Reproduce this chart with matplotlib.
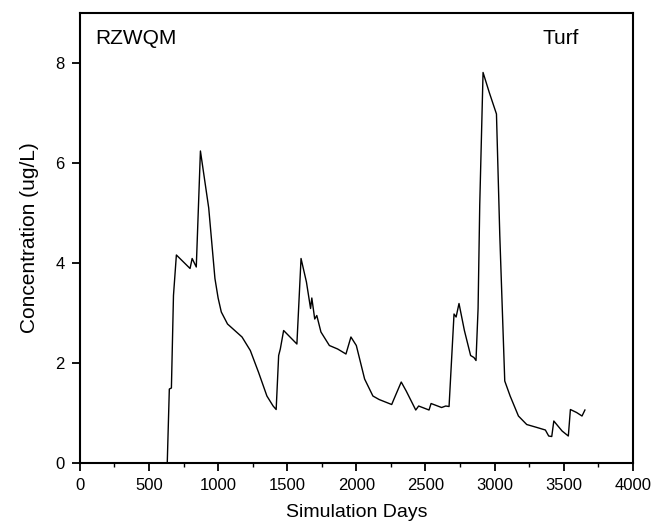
import matplotlib
matplotlib.use('Agg')
import matplotlib.pyplot as plt
from matplotlib.ticker import MultipleLocator

# values
days = [632, 647, 662, 677, 698, 797, 812, 842, 872, 932, 977, 1000, 1023, 1068, 1173,
        1233, 1293, 1353, 1398, 1420, 1438, 1450, 1474, 1570, 1600, 1639, 1669,
        1678, 1699, 1714, 1744, 1805, 1865, 1925, 1961, 2000, 2060, 2120, 2165,
        2256, 2271, 2325, 2361, 2430, 2451, 2526, 2541, 2617, 2647, 2671, 2707,
        2722, 2743, 2782, 2827, 2851, 2866, 2881, 2893, 2917, 2962, 3014, 3038,
        3074, 3113, 3173, 3233, 3308, 3368, 3392, 3414, 3429, 3489, 3534, 3549,
        3594, 3633, 3654]
conc = [0.0, 1.48, 1.5, 3.35, 4.16, 3.89, 4.09, 3.92, 6.24, 5.1, 3.69, 3.3, 3.02, 2.78, 2.52,
        2.25, 1.81, 1.34, 1.14, 1.07, 2.15, 2.28, 2.65, 2.38, 4.09, 3.62, 3.09,
        3.3, 2.88, 2.95, 2.62, 2.35, 2.28, 2.18, 2.52, 2.35, 1.68, 1.34, 1.27,
        1.17, 1.27, 1.62, 1.44, 1.06, 1.14, 1.06, 1.19, 1.11, 1.14, 1.13, 2.98,
        2.92, 3.19, 2.65, 2.15, 2.11, 2.05, 3.09, 5.16, 7.81, 7.41, 6.98, 4.56,
        1.64, 1.34, 0.94, 0.77, 0.71, 0.66, 0.54, 0.53, 0.84, 0.64, 0.54, 1.07,
        1.01, 0.94, 1.06]

plt.rcParams['font.family'] = 'Liberation Sans'

fig = plt.figure(figsize=(6.55, 5.27), dpi=100)
ax = fig.add_axes([0.122, 0.1214, 0.844, 0.854])

ax.plot(days, conc, color='black', linewidth=1.0)

ax.set_xlim(0, 4000)
ax.set_ylim(0, 9)
ax.xaxis.set_major_locator(MultipleLocator(500))
ax.xaxis.set_minor_locator(MultipleLocator(250))
ax.yaxis.set_major_locator(MultipleLocator(2))
ax.tick_params(which='major', direction='out', length=6, width=1.3, labelsize=12, pad=5)
ax.tick_params(which='minor', direction='out', length=3, width=1.0)
for s in ax.spines.values():
    s.set_linewidth(1.5)

ax.set_xlabel('Simulation Days', fontsize=14, labelpad=8)
ax.set_ylabel('Concentration (ug/L)', fontsize=15, labelpad=12)

ax.text(0.027, 0.93, 'RZWQM', transform=ax.transAxes, fontsize=15, va='baseline')
ax.text(0.837, 0.93, 'Turf', transform=ax.transAxes, fontsize=15, va='baseline')

fig.savefig('out.png', dpi=100)
